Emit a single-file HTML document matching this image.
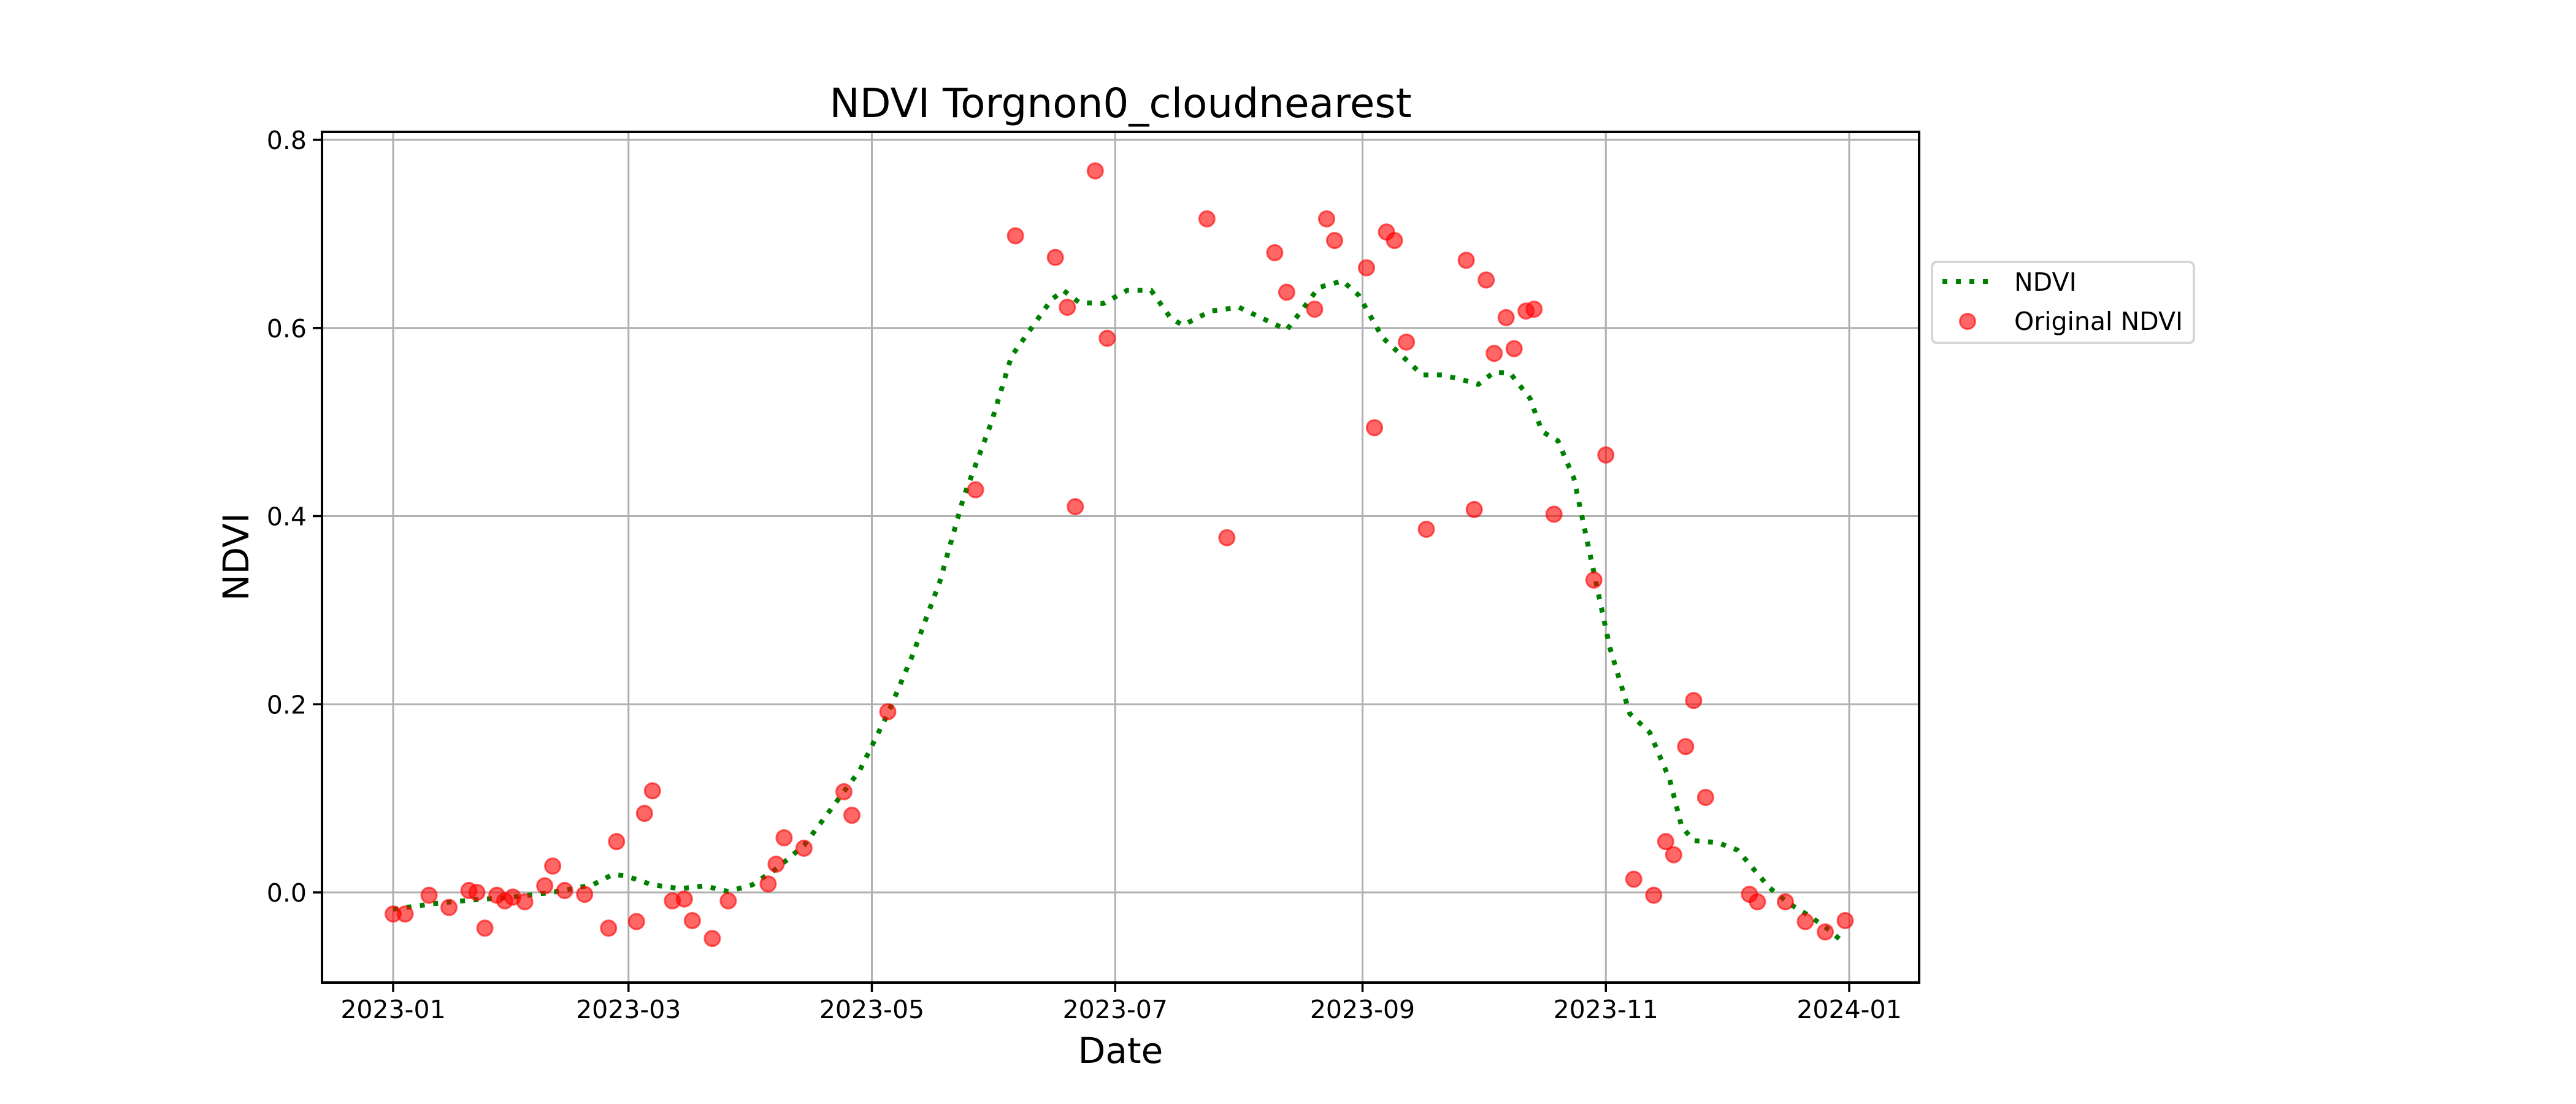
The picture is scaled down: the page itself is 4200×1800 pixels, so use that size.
<!DOCTYPE html>
<html><head><meta charset="utf-8"><style>
html,body{margin:0;padding:0;background:#fff;}
svg{display:block;font-family:"DejaVu Sans","Liberation Sans",sans-serif;}
</style></head><body>
<svg id="chart" width="4200" height="1800" viewBox="0 0 4200 1800">
<rect x="0" y="0" width="4200" height="1800" fill="#fff"/>
<g id="grid"></g>
<g id="line"></g>
<g id="pts"></g>
<rect x="525" y="215" width="2604" height="1387" fill="none" stroke="#000" stroke-width="4"/>
<g id="ticks"></g>
<text x="1827" y="191" font-size="66" text-anchor="middle">NDVI Torgnon0_cloudnearest</text>
<text x="1827" y="1733" font-size="58" text-anchor="middle">Date</text>
<text x="405" y="908" font-size="58" text-anchor="middle" transform="rotate(-90 405 908)">NDVI</text>
<g>
<rect x="3150" y="427" width="427" height="132" rx="8" fill="#fff" stroke="#d6d6d6" stroke-width="4"/>
<line x1="3167" y1="459" x2="3245" y2="459" stroke="#008000" stroke-width="8" stroke-dasharray="8,14"/>
<text x="3284" y="474" font-size="41">NDVI</text>
<circle cx="3208" cy="524" r="12.5" fill="rgba(255,0,0,0.6)" stroke="rgba(255,0,0,0.6)" stroke-width="3"/>
<text x="3284" y="538" font-size="41">Original NDVI</text>
</g>
</svg>
<script>
const ptDays=[0,3,9,14,19,21,23,26,28,30,33,38,40,43,48,54,56,61,63,65,70,73,75,80,84,94,96,98,103,113,115,124,146,156,166,169,171,176,179,204,209,221,224,231,234,236,244,246,249,251,254,259,269,271,274,276,279,281,284,286,291,301,304,311,316,319,321,324,326,329,340,342,349,354,359,364];
const ptVals=[-0.023,-0.023,-0.003,-0.016,0.002,0.000,-0.038,-0.003,-0.009,-0.005,-0.010,0.007,0.028,0.002,-0.002,-0.038,0.054,-0.031,0.084,0.108,-0.009,-0.007,-0.030,-0.049,-0.009,0.009,0.030,0.058,0.047,0.107,0.082,0.192,0.428,0.698,0.675,0.622,0.410,0.767,0.589,0.716,0.377,0.680,0.638,0.620,0.716,0.693,0.664,0.494,0.702,0.693,0.585,0.386,0.672,0.407,0.651,0.573,0.611,0.578,0.618,0.620,0.402,0.332,0.465,0.014,-0.003,0.054,0.040,0.155,0.204,0.101,-0.002,-0.010,-0.010,-0.031,-0.042,-0.030];
const lineDays=[0,10,20,30,40,50,55,58,65,72,78,84,90,96,103,110,117,124,130,137,143,150,155,160,165,168,172,178,184,190,195,198,205,212,218,224,228,232,238,242,248,253,258,263,268,272,276,280,285,288,292,296,300,305,310,315,320,323,326,332,337,341,345,350,355,360,364];
const lineVals=[-0.018,-0.012,-0.008,-0.005,0.000,0.008,0.019,0.018,0.008,0.004,0.007,0.001,0.008,0.025,0.05,0.09,0.13,0.19,0.25,0.33,0.42,0.50,0.57,0.60,0.63,0.64,0.627,0.626,0.64,0.64,0.61,0.603,0.618,0.622,0.61,0.598,0.62,0.643,0.65,0.635,0.59,0.57,0.55,0.55,0.545,0.54,0.553,0.552,0.525,0.49,0.48,0.44,0.36,0.26,0.19,0.17,0.12,0.07,0.055,0.053,0.045,0.025,0.005,-0.012,-0.025,-0.04,-0.055];
const xTickDays=[0,59,120,181,243,304,365];
const xTickLabels=["2023-01","2023-03","2023-05","2023-07","2023-09","2023-11","2024-01"];
const yTickVals=[0,0.2,0.4,0.6,0.8];
const yTickLabels=["0.0","0.2","0.4","0.6","0.8"];
const NS="http://www.w3.org/2000/svg";
function xS(d){return 641+(3015-641)*d/365;}
function yS(v){return 1455-v*1533.75;}
function mk(tag,attrs,parent){const e=document.createElementNS(NS,tag);for(const k in attrs)e.setAttribute(k,attrs[k]);document.getElementById(parent).appendChild(e);return e;}
xTickDays.forEach((d,i)=>{
  const x=xS(d);
  const g=mk('line',{x1:x,x2:x,y1:215,y2:1602,stroke:'#b0b0b0','stroke-width':3},'grid');
  
  
  const t=mk('line',{x1:x,x2:x,y1:1602,y2:1617,stroke:'#000','stroke-width':3.5},'ticks');
  
  
  const l=mk('text',{x:x,y:1660,'font-size':41,'text-anchor':'middle'},'ticks');
  l.textContent=xTickLabels[i];
  
  
});
yTickVals.forEach((v,i)=>{
  const y=yS(v);
  const g=mk('line',{x1:525,x2:3129,y1:y,y2:y,stroke:'#b0b0b0','stroke-width':3},'grid');
  
  
  const t=mk('line',{x1:510,x2:525,y1:y,y2:y,stroke:'#000','stroke-width':3.5},'ticks');
  
  
  const l=mk('text',{x:500,y:y+15,'font-size':41,'text-anchor':'end'},'ticks');
  l.textContent=yTickLabels[i];
  
  
});
let d='';
lineDays.forEach((dd,i)=>{d+=(i?'L':'M')+xS(dd).toFixed(1)+','+yS(lineVals[i]).toFixed(1);});
const p=mk('path',{d:d,fill:'none',stroke:'#008000','stroke-width':8,'stroke-dasharray':'8,14','stroke-linejoin':'round'},'line');


ptDays.forEach((dd,i)=>{
  const c=mk('circle',{cx:xS(dd),cy:yS(ptVals[i]),r:12.5,fill:'rgba(255,0,0,0.6)',stroke:'rgba(255,0,0,0.6)','stroke-width':3},'pts');
  
  
});
</script>
</body></html>
